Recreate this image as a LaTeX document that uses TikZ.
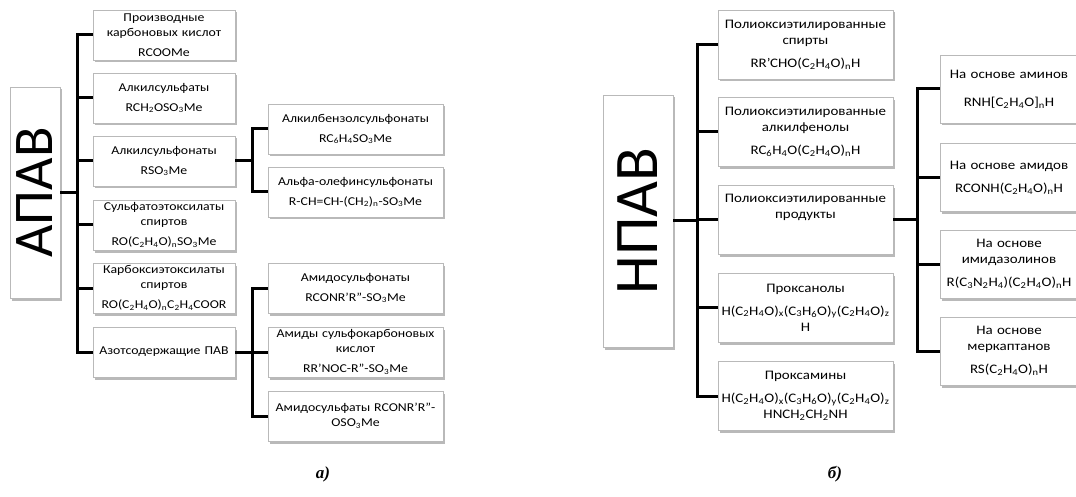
\documentclass[tikz,border=0pt]{standalone}
\usepackage{fontspec}
\setmainfont{Carlito}[FakeStretch=1.15]
\newfontfamily\titlefont{Carlito}
\newfontfamily\capfont{Liberation Serif}
\usetikzlibrary{shadows}
\newcommand{\sbs}[1]{\textsubscript{#1}}
\newcommand{\lf}{\\[5pt]}
\newcommand{\lfr}{\\[7pt]}

\tikzset{
  box/.style={draw=gray!55, line width=0.8pt, fill=white, align=center,
    inner sep=1pt,
    drop shadow={shadow xshift=2pt, shadow yshift=-2.5pt, fill=black!50, opacity=.55}},
  leftbox/.style={box, font=\fontsize{12}{15}\selectfont, minimum height=50pt},
  rightbox/.style={box, font=\fontsize{13}{16}\selectfont},
  title/.style={rotate=90, font=\titlefont\fontsize{56}{60}\selectfont},
  link/.style={line width=3pt},
  caption/.style={font=\capfont\bfseries\itshape\fontsize{17}{20}\selectfont}
}

\begin{document}
\begin{tikzpicture}[x=1pt,y=-1pt]
\useasboundingbox (0,0) rectangle (1076,497);

% anionic surfactants
\node[box, minimum width=50pt, minimum height=211pt] (apav) at (35,192.5) {};
\node[title] (apavtxt) at (apav) {АПАВ};
\coordinate (ta) at (77,192.5);

\begin{scope}[every node/.style={leftbox, text width=140pt}]
  \node (a1) at (164,35) {Производные\\карбоновых кислот\lf RCOOMe};
  \node (a2) at (164,98) {Алкилсульфаты\lf RCH\sbs{2}OSO\sbs{3}Me};
  \node (a3) at (164,161) {Алкилсульфонаты\lf RSO\sbs{3}Me};
  \node (a4) at (164,225) {Сульфатоэтоксилаты\\спиртов\lf RO(C\sbs{2}H\sbs{4}O)\sbs{n}SO\sbs{3}Me};
  \node (a5) at (164,288) {Карбоксиэтоксилаты\\спиртов\lf \makebox[\linewidth]{RO(C\sbs{2}H\sbs{4}O)\sbs{n}C\sbs{2}H\sbs{4}COOR}};
  \node (a6) at (164,352) {Азотсодержащие ПАВ};
\end{scope}

\begin{scope}[every node/.style={leftbox, text width=173pt}]
  \node (b1) at (355.5,129) {Алкилбензолсульфонаты\lf RC\sbs{6}H\sbs{4}SO\sbs{3}Me};
  \node (b2) at (355.5,192) {Альфа-олефинсульфонаты\lf R-CH=CH-(CH\sbs{2})\sbs{n}-SO\sbs{3}Me};
  \node (c1) at (355.5,288) {Амидосульфонаты\lf RCONR'R''-SO\sbs{3}Me};
  \node (c2) at (355.5,352) {Амиды сульфокарбоновых\\кислот\lf RR'NOC-R''-SO\sbs{3}Me};
  \node (c3) at (355.5,416) {\makebox[\linewidth]{Амидосульфаты RCONR'R''-}\\OSO\sbs{3}Me};
\end{scope}
\coordinate (tb) at (252,161);
\coordinate (tc) at (252,352);

\draw[link] (apav) -- (ta);
\foreach \n in {a1,a2,a3,a4,a5,a6}
  \draw[link] (\n.west) -| (ta);
\foreach \n in {b1,b2}
  \draw[link] (\n.west) -| (tb) -- (a3.east);
\foreach \n in {c1,c2,c3}
  \draw[link] (\n.west) -| (tc) -- (a6.east);

\node[caption] (capa) at (323,474) {а)};

% nonionic surfactants
\node[box, minimum width=70pt, minimum height=252pt] (npav) at (638,221) {};
\node[title, font=\titlefont\fontsize{62}{66}\selectfont] (npavtxt) at (npav) {НПАВ};
\coordinate (tn) at (697,221);

\begin{scope}[every node/.style={rightbox, text width=173pt, minimum height=69pt}]
  \node (n1) at (805.5,44.5) {Полиоксиэтилированные\\спирты\lfr RR'CHO(C\sbs{2}H\sbs{4}O)\sbs{n}H};
  \node (n2) at (805.5,132) {Полиоксиэтилированные\\алкилфенолы\lfr RC\sbs{6}H\sbs{4}O(C\sbs{2}H\sbs{4}O)\sbs{n}H};
  \node (n3) at (805.5,220) {Полиоксиэтилированные\\продукты\lfr\strut};
  \node (n4) at (805.5,307.5) {Проксанолы\lfr \makebox[\linewidth]{H(C\sbs{2}H\sbs{4}O)\sbs{x}(C\sbs{3}H\sbs{6}O)\sbs{y}(C\sbs{2}H\sbs{4}O)\sbs{z}}\\H};
  \node (n5) at (805.5,396) {Проксамины\lfr \makebox[\linewidth]{H(C\sbs{2}H\sbs{4}O)\sbs{x}(C\sbs{3}H\sbs{6}O)\sbs{y}(C\sbs{2}H\sbs{4}O)\sbs{z}}\\HNCH\sbs{2}CH\sbs{2}NH};
\end{scope}

\begin{scope}[every node/.style={rightbox, text width=136pt, minimum height=68pt}]
  \node (m1) at (1009,89) {На основе аминов\\[12pt]RNH[C\sbs{2}H\sbs{4}O]\sbs{n}H};
  \node (m2) at (1009,177.5) {На основе амидов\lfr RCONH(C\sbs{2}H\sbs{4}O)\sbs{n}H};
  \node (m3) at (1009,264) {На основе\\имидазолинов\lfr \makebox[\linewidth]{R(C\sbs{3}N\sbs{2}H\sbs{4})(C\sbs{2}H\sbs{4}O)\sbs{n}H}};
  \node (m4) at (1009,351) {На основе\\меркаптанов\lfr RS(C\sbs{2}H\sbs{4}O)\sbs{n}H};
\end{scope}
\coordinate (tm) at (917,220);

\draw[link] (npav) -- (tn);
\foreach \n in {n1,n2,n3,n4,n5}
  \draw[link] (\n.west) -| (tn);
\foreach \n in {m1,m2,m3,m4}
  \draw[link] (\n.west) -| (tm) -- (n3.east);

\node[caption] (capb) at (835,474) {б)};
\end{tikzpicture}
\end{document}
